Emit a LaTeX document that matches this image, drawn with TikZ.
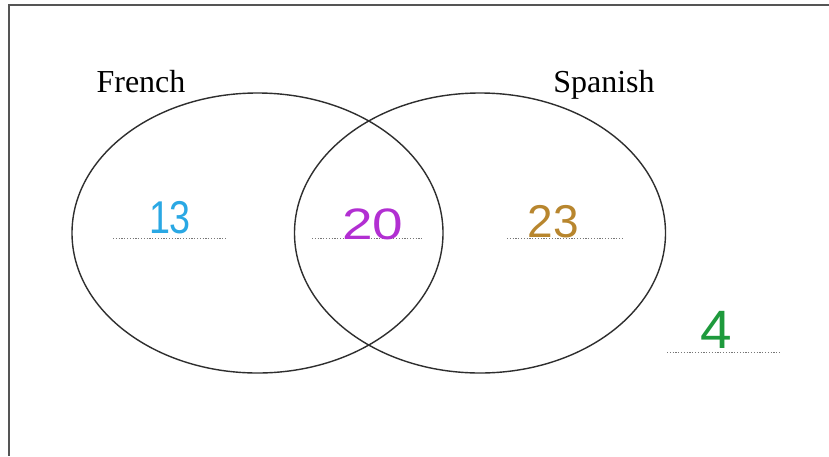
\documentclass[tikz,border=0pt]{standalone}
\usepackage{fontspec}
\setmainfont{Liberation Serif}
\newfontfamily\handfont{Liberation Sans}
\usetikzlibrary{shapes.geometric}
\definecolor{ringgray}{HTML}{2E2E2E}
\definecolor{framegray}{HTML}{555555}
\definecolor{dotgray}{HTML}{777777}
\definecolor{numblue}{HTML}{2AA8E4}
\definecolor{numpurple}{HTML}{B22FD2}
\definecolor{numbrown}{HTML}{B8862E}
\definecolor{numgreen}{HTML}{1E9A3C}
\tikzset{
  setring/.style={draw=ringgray, line width=1.4pt, ellipse, minimum width=371pt, minimum height=280pt, inner sep=0pt},
  setlabel/.style={font=\fontsize{32}{36}\selectfont, text=black, inner sep=0pt, anchor=base},
  countnum/.style={font=\handfont\fontsize{46}{50}\selectfont, inner sep=0pt, anchor=base},
  blankline/.style={draw=dotgray, line width=1pt, dash pattern=on 1.2pt off 1.6pt},
}
\begin{document}
\begin{tikzpicture}[x=1pt,y=-1pt]
\useasboundingbox (0,0) rectangle (829,456);
\fill[white] (0,0) rectangle (829,456);
% frame (top and left edges visible)
\coordinate (fTR) at (829,5);
\coordinate (fTL) at (9,5);
\coordinate (fBL) at (9,456);
\draw[framegray, line width=1.8pt] (fTR) -- (fTL) -- (fBL);
% sets
\node[setring] (french) at (257.5,233) {};
\node[setring] (spanish) at (480,233) {};
\node[setlabel] (frenchlbl) at (141,92) {French};
\node[setlabel] (spanishlbl) at (604,92) {Spanish};
% blanks
\coordinate (b1a) at (113,238); \coordinate (b1b) at (226,238);
\coordinate (b2a) at (312,238); \coordinate (b2b) at (422,238);
\coordinate (b3a) at (507,238); \coordinate (b3b) at (622,238);
\coordinate (b4a) at (667,352); \coordinate (b4b) at (780,352);
\draw[blankline] (b1a) -- (b1b);
\draw[blankline] (b2a) -- (b2b);
\draw[blankline] (b3a) -- (b3b);
\draw[blankline] (b4a) -- (b4b);
% numbers
\node[countnum, text=numblue, xscale=0.82] (n13) at (170,233) {13};
\node[countnum, text=numpurple, font=\handfont\fontsize{44}{50}\selectfont, xscale=1.25] (n20) at (373,239) {20};
\node[countnum, text=numbrown] (n23) at (553,237) {23};
\node[countnum, text=numgreen, font=\handfont\fontsize{54}{60}\selectfont, xscale=1.05] (n4) at (716,348) {4};
\end{tikzpicture}
\end{document}
